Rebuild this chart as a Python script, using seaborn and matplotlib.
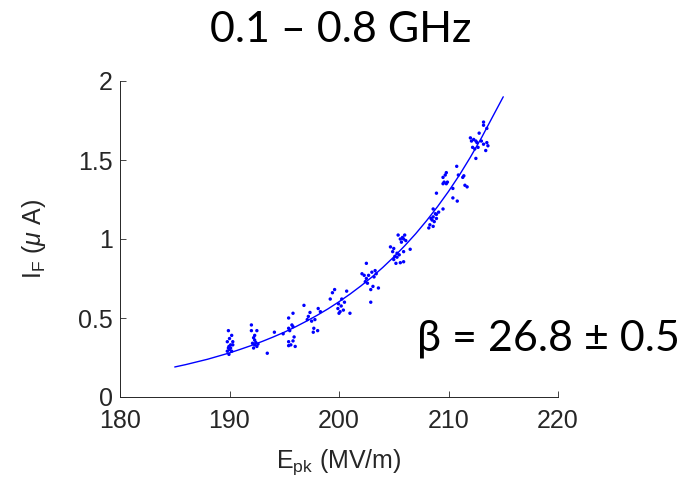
import matplotlib
matplotlib.use("Agg")
import matplotlib.pyplot as plt
import seaborn as sns
import pandas as pd

# ---- data ----
e_pts = [
    # ~190
    189.9, 189.8, 190.0, 190.2, 190.3, 190.1, 189.95, 189.9, 190.0, 189.8, 190.2, 189.95, 190.1, 190.3,
    # ~192.3
    192.0, 192.0, 192.5, 192.3, 192.2, 192.3, 192.1, 192.3, 192.5, 192.2, 192.4, 192.6, 193.45,
    # ~195.5
    194.1, 194.9, 195.4, 195.8, 195.7, 195.4, 195.5, 195.8, 195.9, 195.4, 195.6, 195.4, 195.8, 196.0,
    # ~197.5
    196.8, 197.35, 197.1, 197.5, 197.8, 198.1, 198.3, 197.2, 197.7, 198.05, 197.65,
    # ~200.3
    199.4, 199.6, 199.2, 199.95, 200.2, 199.9, 200.1, 200.4, 200.0, 200.5, 200.7, 201.0, 200.25,
    # ~202.8
    202.5, 202.1, 202.3, 202.5, 202.7, 203.0, 203.3, 203.4, 202.4, 202.6, 203.1, 202.9, 203.6, 202.9, 203.2,
    # ~205.5
    205.4, 205.6, 205.8, 206.0, 205.9, 205.7, 206.1, 204.7, 205.0, 204.9, 205.3, 205.1, 205.3, 205.5,
    205.9, 206.5, 205.2, 205.6, 205.9, 205.0,
    # ~208.7
    208.9, 208.6, 208.8, 208.6, 208.9, 208.5, 208.7, 208.3, 208.6, 208.4, 208.9, 209.1, 209.5, 208.2,
    # ~210
    209.8, 209.7, 209.5, 209.6, 209.5, 209.8, 209.9, 210.75, 210.4, 210.9, 211.5, 211.7, 210.4, 210.8,
    # ~213
    213.2, 213.2, 213.5, 212.8, 212.0, 212.3, 212.1, 212.5, 212.6, 213.0, 213.2, 213.5, 213.6, 212.2,
    212.4, 212.7, 213.4, 212.5, 211.4, 211.3,
]
i_pts = [
    0.42, 0.35, 0.37, 0.39, 0.35, 0.33, 0.32, 0.31, 0.30, 0.29, 0.29, 0.27, 0.31, 0.33,
    0.456, 0.42, 0.42, 0.39, 0.375, 0.36, 0.34, 0.33, 0.32, 0.31, 0.345, 0.335, 0.277,
    0.41, 0.40, 0.50, 0.53, 0.456, 0.435, 0.42, 0.445, 0.38, 0.35, 0.33, 0.325, 0.355, 0.32,
    0.58, 0.535, 0.49, 0.48, 0.49, 0.56, 0.54, 0.51, 0.435, 0.42, 0.41,
    0.66, 0.68, 0.62, 0.59, 0.576, 0.56, 0.54, 0.55, 0.53, 0.60, 0.67, 0.53, 0.62,
    0.846, 0.78, 0.77, 0.75, 0.77, 0.79, 0.80, 0.78, 0.73, 0.72, 0.70, 0.68, 0.69, 0.60, 0.76,
    1.025, 1.00, 1.01, 1.025, 1.00, 0.98, 0.99, 0.95, 0.94, 0.92, 0.91, 0.89, 0.885, 0.90,
    0.92, 0.935, 0.846, 0.85, 0.856, 0.87,
    1.29, 1.19, 1.16, 1.14, 1.156, 1.12, 1.11, 1.09, 1.08, 1.13, 1.13, 1.17, 1.19, 1.07,
    1.42, 1.405, 1.39, 1.36, 1.35, 1.35, 1.36, 1.46, 1.32, 1.405, 1.34, 1.33, 1.26, 1.24,
    1.74, 1.72, 1.70, 1.67, 1.64, 1.63, 1.62, 1.62, 1.61, 1.62, 1.60, 1.61, 1.59, 1.58,
    1.57, 1.58, 1.56, 1.51, 1.40, 1.39,
]

fit_e = list(range(185, 216))
fit_i = [0.190, 0.205, 0.222, 0.239, 0.259, 0.279, 0.302, 0.326, 0.352, 0.380,
         0.410, 0.443, 0.479, 0.517, 0.558, 0.603, 0.651, 0.703, 0.759, 0.820,
         0.886, 0.957, 1.033, 1.116, 1.205, 1.301, 1.405, 1.518, 1.639, 1.770, 1.900]

x_ticks = [180, 190, 200, 210, 220]
y_ticks = [0, 0.5, 1, 1.5, 2]
y_tick_labels = ["0", "0.5", "1", "1.5", "2"]

title_text = "0.1 – 0.8 GHz"
beta_text = "β = 26.8 ± 0.5"

# ---- plot ----
sns.set_style("white")
plt.rcParams["font.family"] = ["Liberation Sans", "DejaVu Sans"]
plt.rcParams["mathtext.fontset"] = "custom"
plt.rcParams["mathtext.rm"] = "Liberation Sans"
plt.rcParams["mathtext.it"] = "Liberation Sans:italic"

fig = plt.figure(figsize=(6.92, 4.99), dpi=100)
ax = fig.add_axes([120 / 692, 102 / 499, 438 / 692, 316 / 499])

pts = pd.DataFrame({"E": e_pts, "I": i_pts})
fit = pd.DataFrame({"E": fit_e, "I": fit_i})

sns.lineplot(data=fit, x="E", y="I", ax=ax, color="#0000ff", lw=1.0)
sns.scatterplot(data=pts, x="E", y="I", ax=ax, color="#0000ff", s=6,
                linewidth=0, edgecolor="none")

ax.set_xlim(180, 220)
ax.set_ylim(0, 2)
ax.set_xticks(x_ticks)
ax.set_yticks(y_ticks)
ax.set_yticklabels(y_tick_labels)

tick_col = "#262626"
ax.tick_params(direction="in", length=4, width=0.6, colors=tick_col,
               labelsize=18, bottom=True, left=True, top=False, right=False)
ax.tick_params(axis="x", pad=9)
ax.tick_params(axis="y", pad=5)
for side in ["top", "right"]:
    ax.spines[side].set_visible(False)
for side in ["left", "bottom"]:
    ax.spines[side].set_color(tick_col)
    ax.spines[side].set_linewidth(0.7)

ax.set_xlabel(r"E$_{\rm pk}$ (MV/m)", fontsize=18, color=tick_col, labelpad=10)
ax.set_ylabel(r"I$_{\rm F}$ ($\mu$ A)", fontsize=18, color=tick_col, labelpad=22)

fig.text(341 / 692, 1 - 42 / 499, title_text, ha="center", va="baseline",
         fontsize=31, family=["Lato", "DejaVu Sans"], color="black")
fig.text(417 / 692, 1 - 350 / 499, beta_text, ha="left", va="baseline",
         fontsize=31, family=["Lato", "DejaVu Sans"], color="black")

fig.savefig("out.png", dpi=100)
